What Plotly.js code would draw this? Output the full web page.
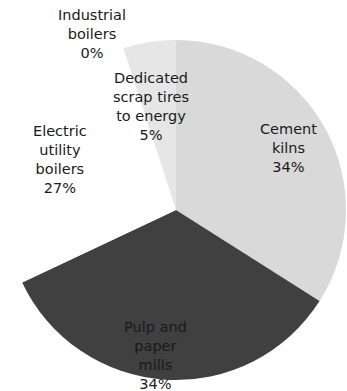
<!DOCTYPE html>
<html><head><meta charset="utf-8">
<script src="https://cdn.plot.ly/plotly-3.0.1.min.js"></script>
<style>html,body{margin:0;padding:0;background:#fff}#chart{width:347px;height:391px}</style>
</head><body><div id="chart"></div>
<script>
const categories = ["Cement kilns", "Pulp and paper mills", "Electric utility boilers", "Industrial boilers", "Dedicated scrap tires to energy"];
const labelLines = ["Cement<br>kilns", "Pulp and<br>paper<br>mills", "Electric<br>utility<br>boilers", "Industrial<br>boilers", "Dedicated<br>scrap tires<br>to energy"];
const values = [34, 34, 27, 0, 5];
const colors = ["#d9d9d9", "#404040", "#ffffff", "#f2f2f2", "#e6e6e6"];

// label anchor positions in pixels (style only)
const labelPx = [[288,148],[155,355],[60,159],[92,34],[151,107]];
const L = 6, T = 40, S = 340;
const total = values.reduce((a,b)=>a+b,0);
const annotations = categories.map((c,i)=>({
  xref:'paper', yref:'paper',
  x:(labelPx[i][0]-L)/S, y:(T+S-labelPx[i][1])/S,
  xanchor:'center', yanchor:'middle', showarrow:false, align:'center',
  text: labelLines[i] + '<br>' + Math.round(values[i]/total*100) + '%',
  font:{family:'DejaVu Sans, sans-serif', size:14.5, color:'#1a1a1a'}
}));

Plotly.newPlot('chart', [{
  type:'pie', labels:categories, values:values, sort:false,
  direction:'clockwise', rotation:0, textinfo:'none', hoverinfo:'label+percent',
  marker:{colors:colors, line:{width:0}}, showlegend:false
}], {
  width:347, height:391, margin:{l:L, r:347-L-S, t:T, b:391-T-S},
  paper_bgcolor:'#fff', plot_bgcolor:'#fff', showlegend:false,
  annotations:annotations
}, {displayModeBar:false, staticPlot:true});
</script></body></html>
